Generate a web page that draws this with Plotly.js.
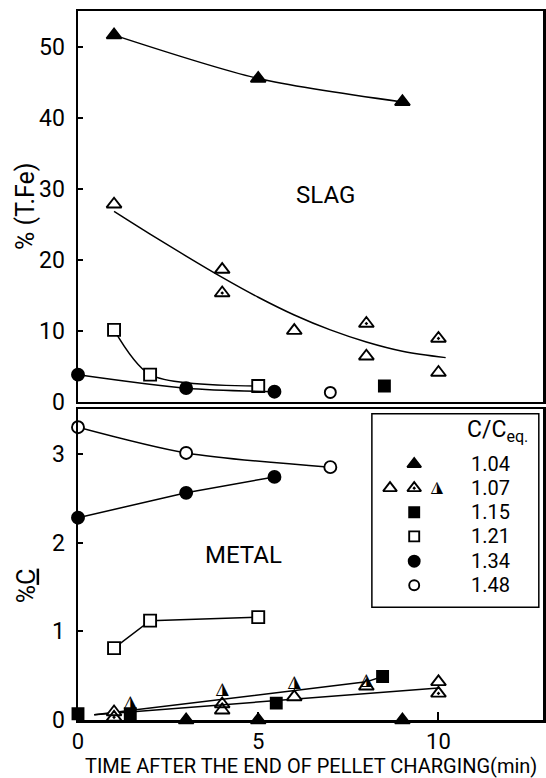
<!DOCTYPE html>
<html>
<head>
<meta charset="utf-8">
<script src="https://cdn.plot.ly/plotly-3.0.1.min.js"></script>
<style>html,body{margin:0;padding:0;background:#fff;}#chart{width:546px;height:778px;}</style>
</head>
<body>
<div id="chart"></div>
<script>
// ---------- SLAG panel: % (T.Fe) vs time (min) ----------
var slag104X = [1, 5, 9];
var slag104Y = [51.6, 45.5, 42.2];
var slag107OpenX = [1, 4, 6, 8, 10];
var slag107OpenY = [27.8, 18.6, 10.0, 6.4, 4.1];
var slag107DotX = [4, 8, 10];
var slag107DotY = [15.3, 11.0, 8.9];
var slag107FitX = [1, 2, 3, 4, 5, 6, 7, 8, 9, 10.2];
var slag107FitY = [26.8, 23.6, 20.5, 17.5, 14.7, 12.2, 10.1, 8.4, 7.1, 6.2];
var slag115X = [8.5];
var slag115Y = [2.2];
var slag121X = [1, 2, 5];
var slag121Y = [10.1, 3.8, 2.2];
var slag134X = [0, 3, 5.45];
var slag134Y = [3.8, 1.9, 1.4];
var slag148X = [7];
var slag148Y = [1.3];

// ---------- METAL panel: % C vs time (min) ----------
var metal148X = [0, 3, 7];
var metal148Y = [3.30, 3.01, 2.85];
var metal134X = [0, 3, 5.45];
var metal134Y = [2.28, 2.56, 2.74];
var metal121X = [1, 2, 5];
var metal121Y = [0.81, 1.12, 1.16];
var metal115X = [0, 1.45, 5.5, 8.45];
var metal115Y = [0.07, 0.07, 0.19, 0.49];
var metal104X = [3, 5, 9];
var metal104Y = [0, 0, 0];
var metal107OpenX = [1, 4, 6, 8, 10];
var metal107OpenY = [0.09, 0.11, 0.26, 0.38, 0.43];
var metal107DotX = [1, 4, 10];
var metal107DotY = [0.03, 0.18, 0.30];
var metal107HalfX = [1.45, 4, 6, 8];
var metal107HalfY = [0.20, 0.34, 0.42, 0.44];
var metalFitUpperX = [0.45, 8.0, 8.45];
var metalFitUpperY = [0.06, 0.43, 0.49];
var metalFitLowerX = [0.45, 10];
var metalFitLowerY = [0.06, 0.36];

// ---------- legend ----------
var legendTitle = 'C/C<sub>eq.</sub>';
var legendLabels = ['1.04', '1.07', '1.15', '1.21', '1.34', '1.48'];

var BLACK = '#000';
var WHITE = '#fff';
var LW = 1.5;

function lineTrace(x, y, xa, ya, shape) {
  return {x: x, y: y, xaxis: xa, yaxis: ya, mode: 'lines', type: 'scatter',
    line: {color: BLACK, width: LW, shape: shape || 'linear', smoothing: 1},
    hoverinfo: 'skip', showlegend: false, cliponaxis: false};
}
function markTrace(x, y, xa, ya, symbol, size, fill, withLine, shape) {
  return {x: x, y: y, xaxis: xa, yaxis: ya, type: 'scatter',
    mode: withLine ? 'lines+markers' : 'markers',
    line: {color: BLACK, width: LW, shape: shape || 'linear', smoothing: 0.8},
    marker: {symbol: symbol, size: size, color: fill, line: {color: BLACK, width: 1.9}},
    showlegend: false, cliponaxis: false};
}
function halfTrace(x, y, xa, ya, size) {
  return {x: x, y: y, xaxis: xa, yaxis: ya, type: 'scatter', mode: 'text',
    text: x.map(function () { return '\u25EE'; }), textposition: 'middle center',
    textfont: {family: 'DejaVu Sans', size: size, color: BLACK},
    showlegend: false, cliponaxis: false};
}

// legend key positions (paper fractions, via hidden full-size axes x3/y3)
var legRowY = [0.361, 0.327, 0.293, 0.259, 0.224, 0.190];
var legSymX = 0.723, legSymXL = 0.671, legSymXR = 0.772;

var data = [
  // top panel
  lineTrace(slag107FitX, slag107FitY, 'x', 'y', 'spline'),
  markTrace(slag104X, slag104Y, 'x', 'y', 'triangle-up', 13, BLACK, true, 'spline'),
  markTrace(slag107OpenX, slag107OpenY, 'x', 'y', 'triangle-up', 13, WHITE, false),
  markTrace(slag107DotX, slag107DotY, 'x', 'y', 'triangle-up-open-dot', 13, BLACK, false),
  markTrace(slag121X, slag121Y, 'x', 'y', 'square', 12, WHITE, true, 'spline'),
  markTrace(slag134X, slag134Y, 'x', 'y', 'circle', 12, BLACK, true, 'spline'),
  markTrace(slag148X, slag148Y, 'x', 'y', 'circle', 11, WHITE, false),
  markTrace(slag115X, slag115Y, 'x', 'y', 'square', 11, BLACK, false),
  // bottom panel
  lineTrace(metalFitUpperX, metalFitUpperY, 'x2', 'y2'),
  lineTrace(metalFitLowerX, metalFitLowerY, 'x2', 'y2'),
  markTrace(metal148X, metal148Y, 'x2', 'y2', 'circle', 12, WHITE, true, 'spline'),
  markTrace(metal134X, metal134Y, 'x2', 'y2', 'circle', 12, BLACK, true, 'linear'),
  markTrace(metal121X, metal121Y, 'x2', 'y2', 'square', 12, WHITE, true, 'linear'),
  markTrace(metal107OpenX, metal107OpenY, 'x2', 'y2', 'triangle-up', 13, WHITE, false),
  markTrace(metal107DotX, metal107DotY, 'x2', 'y2', 'triangle-up-open-dot', 13, BLACK, false),
  halfTrace(metal107HalfX, metal107HalfY, 'x2', 'y2', 17),
  markTrace(metal115X, metal115Y, 'x2', 'y2', 'square', 11, BLACK, false),
  markTrace(metal104X, metal104Y, 'x2', 'y2', 'triangle-up', 13, BLACK, false),
  // legend keys
  markTrace([legSymX], [legRowY[0]], 'x3', 'y3', 'triangle-up', 12, BLACK, false),
  markTrace([legSymXL], [legRowY[1]], 'x3', 'y3', 'triangle-up', 12, WHITE, false),
  markTrace([legSymX], [legRowY[1]], 'x3', 'y3', 'triangle-up-open-dot', 12, BLACK, false),
  halfTrace([legSymXR], [legRowY[1]], 'x3', 'y3', 16),
  markTrace([legSymX], [legRowY[2]], 'x3', 'y3', 'square', 10, BLACK, false),
  markTrace([legSymX], [legRowY[3]], 'x3', 'y3', 'square', 10, WHITE, false),
  markTrace([legSymX], [legRowY[4]], 'x3', 'y3', 'circle', 11, BLACK, false),
  markTrace([legSymX], [legRowY[5]], 'x3', 'y3', 'circle', 10, WHITE, false)
];

var tickFont = {family: 'Roboto, sans-serif', size: 23, color: BLACK};
var axisCommon = {showline: true, linewidth: 2.5, linecolor: BLACK, mirror: true,
  showgrid: false, zeroline: false, tickfont: tickFont, ticks: 'inside',
  tickcolor: BLACK, tickwidth: 2};

var layout = {
  width: 546, height: 778,
  margin: {l: 78, r: 3, t: 11, b: 58},
  paper_bgcolor: '#fff', plot_bgcolor: 'rgba(0,0,0,0)',
  showlegend: false,
  font: {family: 'Roboto, sans-serif', color: BLACK},
  xaxis: Object.assign({}, axisCommon, {anchor: 'y', domain: [0, 1], range: [0, 12.9],
    showticklabels: false, ticks: ''}),
  yaxis: Object.assign({}, axisCommon, {anchor: 'x', domain: [0.449, 1], range: [0, 55],
    tickvals: [0, 10, 20, 30, 40, 50], ticklen: 5, ticklabelstandoff: 6}),
  xaxis2: Object.assign({}, axisCommon, {anchor: 'y2', domain: [0, 1], range: [0, 12.9],
    tickvals: [0, 5, 10], ticklen: 8, ticklabelstandoff: 0,
    tickfont: {family: 'Roboto, sans-serif', size: 22, color: BLACK}}),
  yaxis2: Object.assign({}, axisCommon, {anchor: 'x2', domain: [0, 0.438], range: [0, 3.5],
    tickvals: [0, 1, 2, 3], ticklen: 5, ticklabelstandoff: 6}),
  xaxis3: {anchor: 'y3', domain: [0, 1], range: [0, 1], visible: false, fixedrange: true},
  yaxis3: {anchor: 'x3', domain: [0, 1], range: [0, 1], visible: false, fixedrange: true},
  shapes: [
    {type: 'rect', xref: 'paper', yref: 'paper', x0: 0.632, x1: 0.991, y0: 0.159, y1: 0.432,
     line: {color: BLACK, width: 1.5}, fillcolor: 'rgba(0,0,0,0)'}
  ],
  annotations: []
};

var ann = layout.annotations;
ann.push({xref: 'x', yref: 'y', x: 6.86, y: 29.1, text: 'SLAG', showarrow: false,
  font: {family: 'Roboto, sans-serif', size: 24, color: BLACK}});
ann.push({xref: 'x2', yref: 'y2', x: 4.59, y: 1.86, text: 'METAL', showarrow: false,
  font: {family: 'Roboto, sans-serif', size: 24, color: BLACK}});
ann.push({xref: 'paper', yref: 'paper', x: -0.112, y: 0.725, text: '% (T.Fe)', textangle: -90,
  showarrow: false, xanchor: 'center', yanchor: 'middle',
  font: {family: 'Roboto, sans-serif', size: 25, color: BLACK}});
ann.push({xref: 'paper', yref: 'paper', x: -0.112, y: 0.190, text: '%<u>C</u>', textangle: -90,
  showarrow: false, xanchor: 'center', yanchor: 'middle',
  font: {family: 'Roboto, sans-serif', size: 25, color: BLACK}});
ann.push({xref: 'paper', yref: 'paper', x: 0.502, y: -0.0645,
  text: 'TIME AFTER THE END OF PELLET CHARGING(min)', showarrow: false,
  xanchor: 'center', yanchor: 'middle',
  font: {family: 'Roboto, sans-serif', size: 20, color: BLACK}});

ann.push({xref: 'paper', yref: 'paper', x: 0.902, y: 0.408, text: legendTitle, showarrow: false,
  xanchor: 'center', yanchor: 'middle', font: {family: 'Roboto, sans-serif', size: 23, color: BLACK}});
legendLabels.forEach(function (lab, i) {
  ann.push({xref: 'paper', yref: 'paper', x: 0.887, y: legRowY[i], text: lab, showarrow: false,
    xanchor: 'center', yanchor: 'middle', font: {family: 'Roboto, sans-serif', size: 20, color: BLACK}});
});

Plotly.newPlot('chart', data, layout, {staticPlot: true, displayModeBar: false});
</script>
</body>
</html>
